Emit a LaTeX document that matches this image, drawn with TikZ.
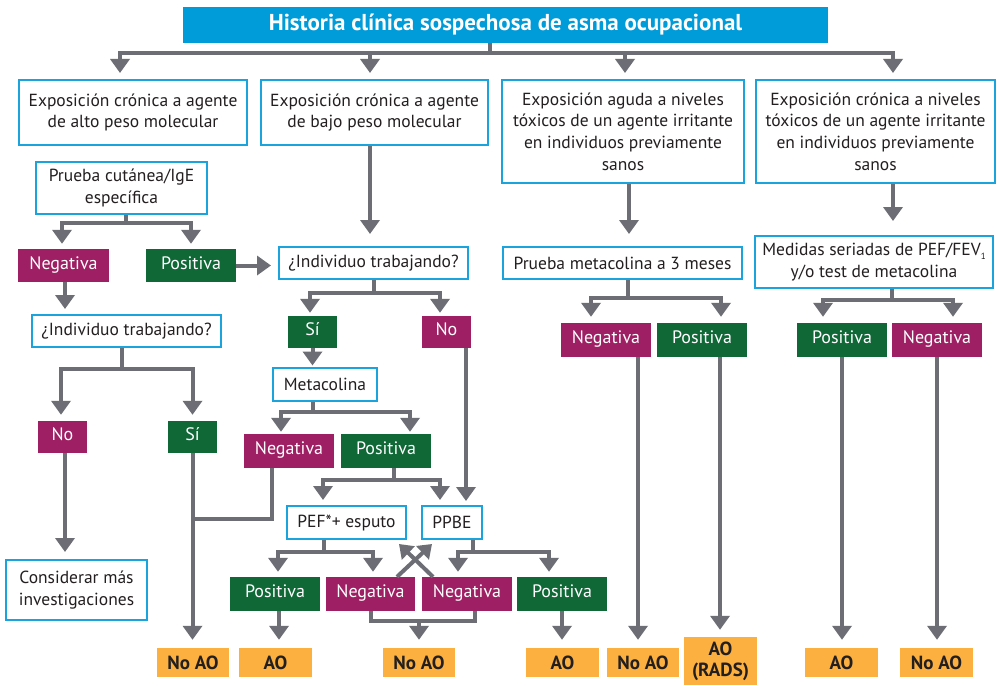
\documentclass[tikz,border=0pt]{standalone}
\usepackage{fontspec}
\setmainfont{PT Sans}
\usetikzlibrary{arrows.meta,calc}
\definecolor{lgray}{HTML}{6D6E75}
\definecolor{cyanb}{HTML}{1AA3DC}
\definecolor{titleb}{HTML}{009BD9}
\definecolor{mag}{HTML}{9E1F63}
\definecolor{grn}{HTML}{106837}
\definecolor{org}{HTML}{FBB040}
\definecolor{txt}{HTML}{231F20}
\begin{document}
\begin{tikzpicture}[x=1pt,y=-1pt,
  ln/.style={draw=lgray,line width=4pt},
  arr/.style={ln,-{Triangle[width=19pt,length=14pt]}},
  sz/.style 2 args={minimum width=#1pt,minimum height=#2pt},
  titlebox/.style={fill=titleb,text=white,inner sep=0pt,font=\bfseries\fontsize{23}{26}\selectfont},
  wbox/.style={draw=cyanb,line width=2pt,fill=white,text=txt,inner sep=0pt,align=center,font=\fontsize{17.5}{21.7}\selectfont},
  mbox/.style={fill=mag,text=white,inner sep=0pt,align=center,text height=0.7em,text depth=0pt,font=\fontsize{18}{20}\selectfont},
  gbox/.style={fill=grn,text=white,inner sep=0pt,align=center,text height=0.7em,text depth=0pt,font=\fontsize{18}{20}\selectfont},
  obox/.style={fill=org,text=txt,inner sep=0pt,align=center,font=\bfseries\fontsize{19}{21}\selectfont}
]
\useasboundingbox (0,0) rectangle (998,685);
\fill[white] (0,0) rectangle (998,685);

% nodes
\node[titlebox,sz={645}{36}] (title) at (505.5,25) {Historia clínica sospechosa de asma ocupacional};
\node[wbox,sz={228}{65}] (A) at (133,112.5) {Exposición crónica a agente\\de alto peso molecular};
\node[wbox,sz={227}{65}] (B) at (374.5,112.5) {Exposición crónica a agente\\de bajo peso molecular};
\node[wbox,sz={242}{103}] (C) at (623,131.5) {Exposición aguda a niveles\\tóxicos de un agente irritante\\en individuos previamente\\sanos};
\node[wbox,sz={239}{103}] (D) at (875.5,131.5) {Exposición crónica a niveles\\tóxicos de un agente irritante\\en individuos previamente\\sanos};

\node[wbox,sz={171}{52}] (pc) at (121.5,188) {Prueba cutánea/IgE\\específica};
\node[mbox,sz={91}{33}] (negL) at (63.5,265.5) {Negativa};
\node[gbox,sz={90}{33}] (posL) at (191,265.5) {Positiva};
\node[wbox,sz={189}{32}] (itM) at (373.5,263) {¿Individuo trabajando?};
\node[wbox,sz={189}{32}] (itL) at (126.5,331) {¿Individuo trabajando?};
\node[mbox,sz={49}{32}] (noL) at (62.5,437) {No};
\node[gbox,sz={49}{32}] (siL) at (192.5,437) {Sí};
\node[wbox,sz={141}{60}] (cons) at (76.5,590) {Considerar más\\investigaciones};

\node[gbox,sz={49}{32}] (siM) at (312.5,332) {Sí};
\node[mbox,sz={49}{32}] (noM) at (446.5,332) {No};
\node[wbox,sz={104}{33}] (meta) at (325,384.5) {Metacolina};
\node[mbox,sz={90}{34}] (negM) at (289,451) {Negativa};
\node[gbox,sz={90}{34}] (posM) at (386,451) {Positiva};
\node[wbox,sz={119}{33}] (pef) at (346.5,522.5) {PEF*+ esputo};
\node[wbox,sz={60}{33}] (ppbe) at (452,522.5) {PPBE};
\node[gbox,sz={90}{34}] (posB1) at (275,594) {Positiva};
\node[mbox,sz={89}{34}] (negB1) at (370.5,594) {Negativa};
\node[mbox,sz={90}{34}] (negB2) at (467,594) {Negativa};
\node[gbox,sz={90}{34}] (posB2) at (562,594) {Positiva};

\node[wbox,sz={239}{32}] (pm) at (622.5,263) {Prueba metacolina a 3 meses};
\node[wbox,sz={238}{52}] (med) at (874,262) {Medidas seriadas de PEF/FEV\raisebox{-0.45ex}{\fontsize{9}{9}\selectfont 1}\\y/o test de metacolina};
\node[mbox,sz={90}{34}] (negR1) at (606,340) {Negativa};
\node[gbox,sz={90}{34}] (posR1) at (702,340) {Positiva};
\node[gbox,sz={90}{34}] (posR2) at (842,340) {Positiva};
\node[mbox,sz={90}{34}] (negR2) at (937,340) {Negativa};

\node[obox,sz={72}{29}] (noao1) at (193,662.5) {No AO};
\node[obox,sz={73}{29}] (ao1) at (275.5,662.5) {AO};
\node[obox,sz={72}{29}] (noao2) at (419,662.5) {No AO};
\node[obox,sz={73}{29}] (ao2) at (562.5,662.5) {AO};
\node[obox,sz={72}{29}] (noao3) at (643,662.5) {No AO};
\node[obox,sz={73}{48}] (rads) at (720.5,661) {AO\\(RADS)};
\node[obox,sz={73}{29}] (ao3) at (841.5,662.5) {AO};
\node[obox,sz={73}{29}] (noao4) at (936.5,662.5) {No AO};

% title fork
\foreach \t/\s in {A/-13,B/-4.5,C/2,D/17.5}
  \draw[arr,shorten >=6pt] ([xshift=-15.5pt]title.south) -- ++(0,10) -| ([xshift=\s pt]\t.north);

% left column
\foreach \t/\s in {negL/-1.5,posL/0}
  \draw[arr,shorten >=5pt] ([xshift=4.5pt]pc.south) -- ++(0,8) -| ([xshift=\s pt]\t.north);
\draw[arr,shorten >=7pt] (posL.east) -- (posL.east -| itM.west);
\draw[arr,shorten >=5pt] ([xshift=1.5pt]negL.south) -- ([xshift=1.5pt]negL.south |- itL.north);
\foreach \t/\s in {noL/-1.5,siL/0}
  \draw[arr,shorten >=6pt] ([xshift=-4.5pt]itL.south) -- ++(0,21) -| ([xshift=\s pt]\t.north);
\draw[arr,shorten >=7pt] ([xshift=2.5pt]noL.south) -- ([xshift=2.5pt]noL.south |- cons.north);
\draw[arr,shorten >=8pt] (siL.south) -- (siL.south |- noao1.north);
\draw[ln] ([xshift=-17pt]negM.south) -- ++(0,51) coordinate (nj) -- (nj -| siL.south);

% middle column
\draw[arr,shorten >=12pt] ([xshift=-4.5pt]B.south) -- ([xshift=-4.5pt]B.south |- itM.north);
\foreach \t/\s in {siM/-2.5,noM/-6.5}
  \draw[arr,shorten >=3pt] (itM.south) -- ++(0,13) -| ([xshift=\s pt]\t.north);
\draw[arr,shorten >=1.5pt] (siM.south) -- (siM.south |- meta.north);
\foreach \t/\s in {negM/-8,posM/24}
  \draw[arr,shorten >=2pt] ([xshift=-12pt]meta.south) -- ++(0,10) -| ([xshift=\s pt]\t.north);
\draw[arr,shorten >=4pt] ([xshift=19.5pt]noM.south) -- ([xshift=19.5pt]noM.south |- ppbe.north);
\foreach \t/\s in {pef/-23.5,ppbe/-12}
  \draw[arr,shorten >=5pt] ([xshift=8pt]posM.south) -- ++(0,12) -| ([xshift=\s pt]\t.north);
\foreach \t/\s in {posB1/3,negB1/2.5}
  \draw[arr,shorten >=5pt] ([xshift=-22.5pt]pef.south) -- ++(0,12) -| ([xshift=\s pt]\t.north);
\foreach \t/\s in {negB2/-9,posB2/-13}
  \draw[arr,shorten >=5pt] ([xshift=21pt]ppbe.south) -- ++(0,12) -| ([xshift=\s pt]\t.north);
\draw[arr,-{Triangle[width=18pt,length=13pt]}] ([xshift=26.5pt]negB1.north) -- ([xshift=11pt,yshift=-4pt]ppbe.south west);
\draw[arr,-{Triangle[width=18pt,length=13pt]}] ([xshift=-34pt]negB2.north) -- ([xshift=-8pt,yshift=-4pt]pef.south east);
\draw[arr,shorten >=8pt] ([xshift=4pt]posB1.south) -- ([xshift=4pt]posB1.south |- ao1.north);
\draw[ln] (negB1.south) -- ++(0,10) coordinate (bj) -| ([xshift=8pt]negB2.south);
\draw[arr,shorten >=8pt] (bj -| noao2.north) -- (noao2.north);
\draw[arr,shorten >=8pt] (posB2.south) -- (posB2.south |- ao2.north);

% right columns
\draw[arr,shorten >=12pt] ([xshift=6pt]C.south) -- ([xshift=6pt]C.south |- pm.north);
\foreach \t/\s in {negR1/-15,posR1/19}
  \draw[arr,shorten >=6pt] ([xshift=5.5pt]pm.south) -- ++(0,18) -| ([xshift=\s pt]\t.north);
\draw[arr,shorten >=8pt] ([xshift=32pt]negR1.south) -- ([xshift=32pt]negR1.south |- noao3.north);
\draw[arr,shorten >=7pt] ([xshift=18pt]posR1.south) -- ([xshift=18pt]posR1.south |- rads.north);
\draw[arr,shorten >=14pt] ([xshift=17.5pt]D.south) -- ([xshift=17.5pt]D.south |- med.north);
\foreach \t/\s in {posR2/-19,negR2/16}
  \draw[arr,shorten >=6pt] ([xshift=18pt]med.south) -- ++(0,11) -| ([xshift=\s pt]\t.north);
\draw[arr,shorten >=8pt] (posR2.south) -- (posR2.south |- ao3.north);
\draw[arr,shorten >=8pt] (negR2.south) -- (negR2.south |- noao4.north);
\end{tikzpicture}
\end{document}
